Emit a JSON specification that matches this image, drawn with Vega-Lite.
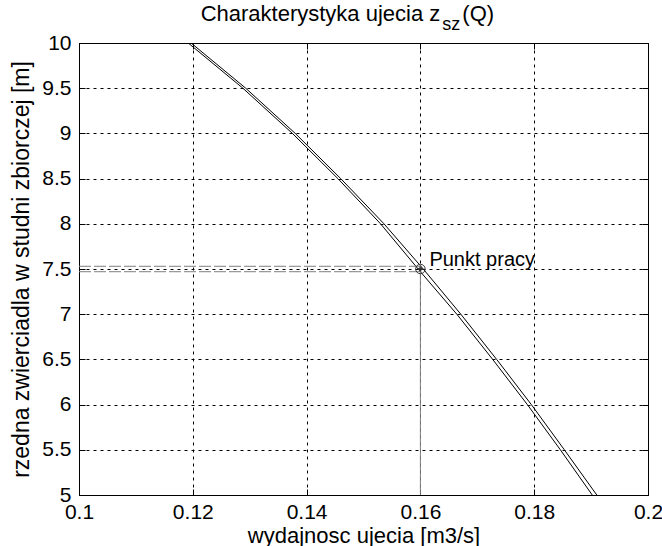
{
  "$schema": "https://vega.github.io/schema/vega-lite/v6.json",
  "width": 569,
  "height": 452,
  "autosize": {"type": "none"},
  "padding": {"left": 79, "top": 43, "right": 14, "bottom": 51},
  "background": "white",
  "config": {
    "font": "Liberation Sans",
    "view": {"stroke": "black", "strokeWidth": 1},
    "axis": {
      "domainColor": "black",
      "tickColor": "black",
      "labelColor": "black",
      "titleColor": "black",
      "labelFont": "Liberation Sans",
      "titleFont": "Liberation Sans",
      "labelFontSize": 21,
      "titleFontSize": 22,
      "titleFontWeight": "normal",
      "gridColor": "black",
      "gridOpacity": 1,
      "gridDash": [3, 4],
      "gridWidth": 1,
      "tickSize": -6
    }
  },
  "datasets": {
    "curves": [
      {"Q": 0.1192, "z": 10.0, "curve": "A"},
      {"Q": 0.1288, "z": 9.5, "curve": "A"},
      {"Q": 0.1375, "z": 9.0, "curve": "A"},
      {"Q": 0.1455, "z": 8.5, "curve": "A"},
      {"Q": 0.1530, "z": 8.0, "curve": "A"},
      {"Q": 0.1600, "z": 7.47, "curve": "A"},
      {"Q": 0.1664, "z": 7.0, "curve": "A"},
      {"Q": 0.1727, "z": 6.5, "curve": "A"},
      {"Q": 0.1788, "z": 6.0, "curve": "A"},
      {"Q": 0.1846, "z": 5.5, "curve": "A"},
      {"Q": 0.1902, "z": 5.0, "curve": "A"},
      {"Q": 0.1197, "z": 10.0, "curve": "B"},
      {"Q": 0.1293, "z": 9.5, "curve": "B"},
      {"Q": 0.1380, "z": 9.0, "curve": "B"},
      {"Q": 0.1460, "z": 8.5, "curve": "B"},
      {"Q": 0.1536, "z": 8.0, "curve": "B"},
      {"Q": 0.1605, "z": 7.5, "curve": "B"},
      {"Q": 0.1671, "z": 7.0, "curve": "B"},
      {"Q": 0.1734, "z": 6.5, "curve": "B"},
      {"Q": 0.1795, "z": 6.0, "curve": "B"},
      {"Q": 0.1853, "z": 5.5, "curve": "B"},
      {"Q": 0.1910, "z": 5.0, "curve": "B"}
    ],
    "hlines": [
      {"Q0": 0.1, "Q1": 0.16, "z": 7.47},
      {"Q0": 0.1, "Q1": 0.16, "z": 7.53}
    ],
    "vline": [{"Q": 0.16, "z0": 5, "z1": 7.5}],
    "point": [{"Q": 0.16, "z": 7.5, "label": "Punkt pracy"}],
    "title": [
      {"part": "main", "text": "Charakterystyka ujecia z"},
      {"part": "sub", "text": "sz"},
      {"part": "tail", "text": "(Q)"}
    ]
  },
  "layer": [
    {
      "data": {"name": "curves"},
      "mark": {"type": "line", "stroke": "black", "strokeWidth": 1, "clip": true},
      "encoding": {
        "x": {
          "field": "Q", "type": "quantitative",
          "scale": {"domain": [0.1, 0.2], "nice": false, "zero": false},
          "axis": {"orient": "bottom", "values": [0.1, 0.12, 0.14, 0.16, 0.18, 0.2], "format": "~g", "grid": true, "title": "wydajnosc ujecia [m3/s]", "labelPadding": 12, "titlePadding": 3, "labelFlush": false}
        },
        "y": {
          "field": "z", "type": "quantitative",
          "scale": {"domain": [5, 10], "nice": false, "zero": false},
          "axis": {"orient": "left", "values": [5, 5.5, 6, 6.5, 7, 7.5, 8, 8.5, 9, 9.5, 10], "format": "~g", "grid": true, "title": "rzedna zwierciadla w studni zbiorczej [m]", "titleFontSize": 23, "labelPadding": 14, "titlePadding": 8, "labelFlush": false}
        },
        "detail": {"field": "curve"}
      }
    },
    {
      "data": {"name": "point"},
      "mark": {"type": "point", "opacity": 0},
      "encoding": {
        "x": {"field": "Q", "type": "quantitative", "axis": {"orient": "top", "values": [0.1, 0.12, 0.14, 0.16, 0.18, 0.2], "labels": false, "grid": false, "title": null}},
        "y": {"field": "z", "type": "quantitative", "axis": {"orient": "right", "values": [5, 5.5, 6, 6.5, 7, 7.5, 8, 8.5, 9, 9.5, 10], "labels": false, "grid": false, "title": null}}
      }
    },
    {
      "data": {"name": "hlines"},
      "mark": {"type": "rule", "stroke": "#7f7f7f", "strokeWidth": 1, "strokeDash": [12, 3]},
      "encoding": {
        "x": {"field": "Q0", "type": "quantitative", "axis": null},
        "x2": {"field": "Q1"},
        "y": {"field": "z", "type": "quantitative", "axis": null}
      }
    },
    {
      "data": {"name": "vline"},
      "mark": {"type": "rule", "stroke": "#7f7f7f", "strokeWidth": 1},
      "encoding": {
        "x": {"field": "Q", "type": "quantitative", "axis": null},
        "y": {"field": "z0", "type": "quantitative", "axis": null},
        "y2": {"field": "z1"}
      }
    },
    {
      "data": {"name": "point"},
      "mark": {"type": "point", "shape": "circle", "filled": false, "stroke": "#333333", "strokeWidth": 1, "size": 90, "opacity": 1},
      "encoding": {
        "x": {"field": "Q", "type": "quantitative", "axis": null},
        "y": {"field": "z", "type": "quantitative", "axis": null}
      }
    },
    {
      "data": {"name": "point"},
      "mark": {"type": "point", "shape": "cross", "filled": true, "fill": "#333333", "size": 25, "opacity": 1},
      "encoding": {
        "x": {"field": "Q", "type": "quantitative", "axis": null},
        "y": {"field": "z", "type": "quantitative", "axis": null}
      }
    },
    {
      "data": {"name": "point"},
      "mark": {"type": "text", "align": "left", "baseline": "alphabetic", "dx": 9, "dy": -3, "fontSize": 20, "font": "Liberation Sans", "color": "black"},
      "encoding": {
        "x": {"field": "Q", "type": "quantitative", "axis": null},
        "y": {"field": "z", "type": "quantitative", "axis": null},
        "text": {"field": "label"}
      }
    },
    {
      "data": {"name": "title"},
      "transform": [{"filter": "datum.part === 'main'"}],
      "mark": {"type": "text", "align": "right", "baseline": "alphabetic", "dy": -22, "fontSize": 22, "font": "Liberation Sans", "color": "black"},
      "encoding": {
        "x": {"datum": 0.1635, "type": "quantitative", "axis": null},
        "y": {"datum": 10, "type": "quantitative", "axis": null},
        "text": {"field": "text"}
      }
    },
    {
      "data": {"name": "title"},
      "transform": [{"filter": "datum.part === 'sub'"}],
      "mark": {"type": "text", "align": "left", "baseline": "alphabetic", "dx": 2, "dy": -13, "fontSize": 18, "font": "Liberation Sans", "color": "black"},
      "encoding": {
        "x": {"datum": 0.1635, "type": "quantitative", "axis": null},
        "y": {"datum": 10, "type": "quantitative", "axis": null},
        "text": {"field": "text"}
      }
    },
    {
      "data": {"name": "title"},
      "transform": [{"filter": "datum.part === 'tail'"}],
      "mark": {"type": "text", "align": "left", "baseline": "alphabetic", "dx": 22, "dy": -22, "fontSize": 22, "font": "Liberation Sans", "color": "black"},
      "encoding": {
        "x": {"datum": 0.1635, "type": "quantitative", "axis": null},
        "y": {"datum": 10, "type": "quantitative", "axis": null},
        "text": {"field": "text"}
      }
    }
  ],
  "resolve": {"axis": {"x": "independent", "y": "independent"}}
}
